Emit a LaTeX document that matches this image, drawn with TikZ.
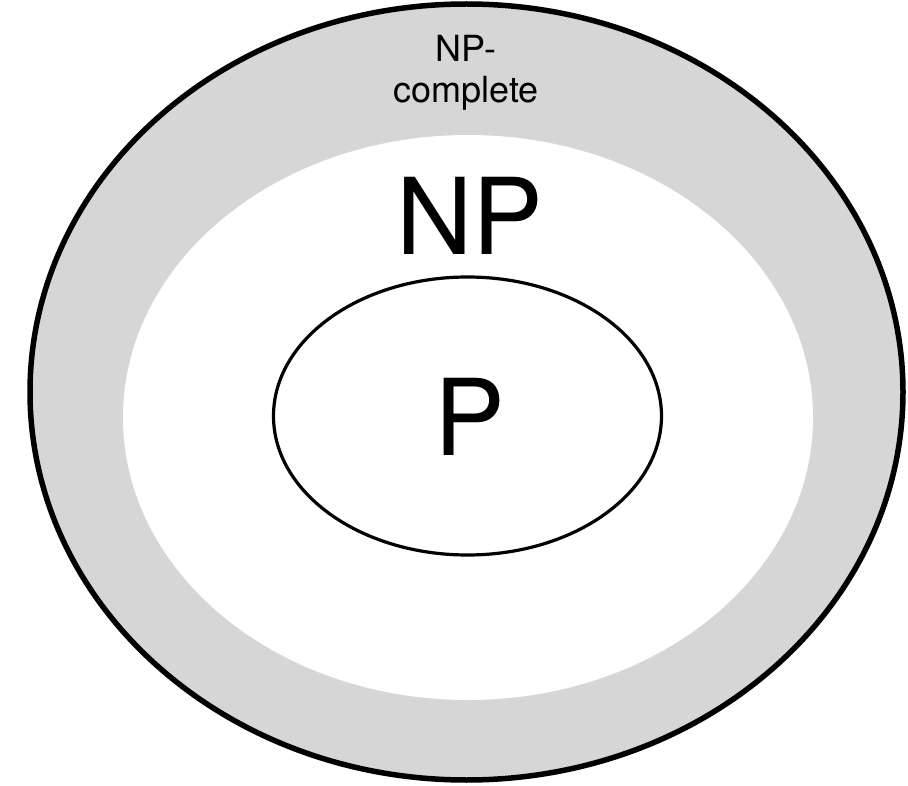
\documentclass[tikz,border=0pt]{standalone}
\usepackage{fontspec}
\setmainfont{TeX Gyre Heros}
\definecolor{ringgray}{HTML}{D6D6D6}
\tikzset{
  outerset/.style={draw=black, line width=5.5pt, fill=ringgray},
  innerset/.style={fill=white},
  pset/.style={draw=black, line width=3.2pt, fill=white},
  lbl/.style={anchor=base, inner sep=0pt, outer sep=0pt}
}
\begin{document}
\begin{tikzpicture}[x=1pt, y=-1pt]
\useasboundingbox (0,0) rectangle (908,786);
\path[outerset] (466.5,392) ellipse [x radius=436.5, y radius=388];
\path[innerset] (468,417.5) ellipse [x radius=345, y radius=282.5];
\path[pset] (467.5,416) ellipse [x radius=194, y radius=139];
\node[lbl, font=\fontsize{36}{41}\selectfont] (npc1) at (466,62) {NP-};
\node[lbl, font=\fontsize{36}{41}\selectfont] (npc2) at (466,103) {complete};
\node[lbl, font=\fontsize{106}{110}\selectfont] (np) at (470,255) {NP};
\node[lbl, font=\fontsize{106}{110}\selectfont] (p) at (470,455) {P};
\end{tikzpicture}
\end{document}
